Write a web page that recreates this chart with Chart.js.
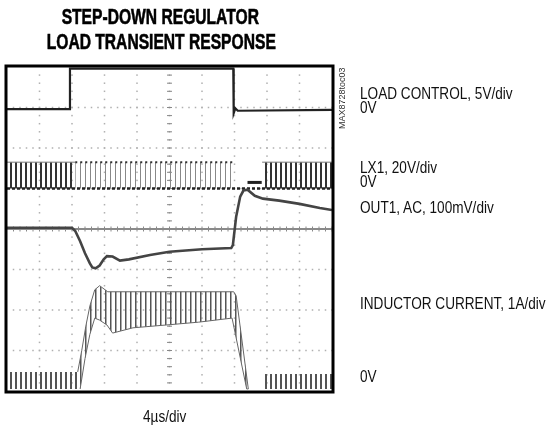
<!DOCTYPE html>
<html>
<head>
<meta charset="utf-8">
<script src="https://cdn.jsdelivr.net/npm/chart.js@4.4.0/dist/chart.umd.min.js"></script>
<style>
body { margin: 0; background: #fff; }
#wrap { position: relative; width: 549px; height: 430px; font-family: "Liberation Sans", Arial, sans-serif; color: #111; }
#wrap canvas { position: absolute; left: 0; top: 0; }
.title { position: absolute; left: 0; top: 4px; width: 320px; text-align: center; font-weight: bold; font-size: 22px; line-height: 25px; white-space: nowrap; color: #000; -webkit-text-stroke: 0.6px #000; transform: scaleX(0.71); transform-origin: 161px 0; }
.lbl { position: absolute; left: 360px; font-size: 17px; line-height: 17px; white-space: nowrap; transform: scaleX(0.8); transform-origin: 0 0; }
.code { position: absolute; left: 338px; top: 129px; font-size: 9px; line-height: 9px; white-space: nowrap; color: #333; transform: rotate(-90deg); transform-origin: 0 0; }
</style>
</head>
<body>
<div id="wrap">
	<canvas id="scope" width="549" height="430"></canvas>
	<div class="title">STEP-DOWN REGULATOR<br>LOAD TRANSIENT RESPONSE</div>
	<div class="code">MAX8728toc03</div>
	<div class="lbl" style="top:85px">LOAD CONTROL, 5V/div</div>
	<div class="lbl" style="top:99px">0V</div>
	<div class="lbl" style="top:159px">LX1, 20V/div</div>
	<div class="lbl" style="top:173px">0V</div>
	<div class="lbl" style="top:199px">OUT1, AC, 100mV/div</div>
	<div class="lbl" style="top:295px">INDUCTOR CURRENT, 1A/div</div>
	<div class="lbl" style="top:368px">0V</div>
	<div class="lbl" style="top:408px; left:143px">4µs/div</div>
</div>
<script>
// x = time in µs (4µs/div, 10 div), y = screen divisions (0 bottom .. 8 top)
const xTicks = [0, 4, 8, 12, 16, 20, 24, 28, 32, 36, 40];
const yTicks = [0, 1, 2, 3, 4, 5, 6, 7, 8];

// LOAD CONTROL
const loadT = [0, 7.7, 7.75, 27.85, 27.9, 28.1, 28.4, 40];
const loadV = [6.96, 6.96, 7.96, 7.96, 6.86, 6.98, 6.92, 6.94];

// OUT1, AC coupled
const out1T = [0, 8.0, 8.4, 9.0, 9.6, 10.2, 10.5, 10.9, 11.4, 11.9, 12.3, 13.0, 13.9, 15.0, 17.6, 20.0, 24.0, 27.6, 27.8, 28.2, 28.7, 29.1, 29.6, 30.5, 31.5, 33.5, 36.0, 38.5, 40];
const out1V = [4.03, 4.03, 3.95, 3.7, 3.4, 3.15, 3.05, 3.03, 3.1, 3.25, 3.33, 3.32, 3.22, 3.25, 3.36, 3.44, 3.5, 3.53, 3.6, 4.3, 4.8, 4.95, 4.97, 4.82, 4.75, 4.7, 4.62, 4.52, 4.47];

// LX1 switching node: top of the pulse bursts, ground at 5 div
const lxGround = 5.0;
const lxLeftT = [0, 8.4];
const lxLeftV = [5.65, 5.65];
const lxHeavyT = [8.4, 27.8];
const lxHeavyV = [5.65, 5.65];
const lxIdleT = [29.6, 31.35];
const lxIdleV = [5.15, 5.15];
const lxRightT = [31.4, 40];
const lxRightV = [5.65, 5.65];

// INDUCTOR CURRENT: outline of the ripple band (top edge, then bottom edge back)
const ilLeftT = [0, 8.9, 8.9, 0];
const ilLeftV = [0.47, 0.47, 0.05, 0.05];
const ilHeavyT = [8.7, 9.2, 9.7, 10.2, 10.8, 11.4, 12.4, 20, 27.9, 28.2, 29.7, 29.5, 27.7, 23.6, 19.6, 15.5, 13.0, 12.3, 11.4, 10.8, 10.2, 9.6, 9.0];
const ilHeavyV = [0.47, 1.0, 1.6, 2.1, 2.5, 2.6, 2.45, 2.45, 2.45, 2.35, 0.05, 0.05, 1.8, 1.7, 1.63, 1.56, 1.43, 1.63, 1.75, 1.8, 1.4, 0.8, 0.05];
const ilRightT = [31.4, 40, 40, 31.4];
const ilRightV = [0.42, 0.42, 0.05, 0.05];

function pts(t, v) {
	return t.map((x, i) => ({ x: x, y: v[i] }));
}

const canvas = document.getElementById('scope');
const ctx = canvas.getContext('2d');

// striped fills to mimic the switching ripple
function stripes(color, period, width) {
	const c = document.createElement('canvas');
	c.width = period; c.height = 2;
	const g = c.getContext('2d');
	g.fillStyle = color;
	g.fillRect(0, 0, width, 2);
	return ctx.createPattern(c, 'repeat');
}

const darkStripes = stripes('#333', 5, 2);
const lightStripes = stripes('#888', 5, 1);
const currentStripes = stripes('#555', 5, 1.5);
const lowCurrentStripes = stripes('#555', 5, 2);

const scopeFrame = {
	id: 'scopeFrame',
	beforeDatasetsDraw(chart) {
		const { ctx, chartArea: a, scales: { x, y } } = chart;
		ctx.save();
		ctx.fillStyle = '#b0b0b0';
		// dotted graticule
		xTicks.slice(1, -1).forEach(t => {
			const px = x.getPixelForValue(t);
			for (let v = 0.2; v < 8; v += 0.2)
				ctx.fillRect(px - 0.75, y.getPixelForValue(v) - 0.75, 1.5, 1.5);
		});
		yTicks.slice(1, -1).forEach(v => {
			const py = y.getPixelForValue(v);
			for (let t = 0.8; t < 40; t += 0.8)
				ctx.fillRect(x.getPixelForValue(t) - 0.75, py - 0.75, 1.5, 1.5);
		});
		// center axes with tick marks
		ctx.strokeStyle = '#888';
		ctx.lineWidth = 1;
		const cx = x.getPixelForValue(20), cy = y.getPixelForValue(4);
		ctx.beginPath();
		for (let v = 0.2; v < 8; v += 0.2) {
			const py = y.getPixelForValue(v);
			ctx.moveTo(cx - 2.5, py); ctx.lineTo(cx + 2.5, py);
		}
		for (let t = 0.8; t < 40; t += 0.8) {
			const px = x.getPixelForValue(t);
			ctx.moveTo(px, cy - 2.5); ctx.lineTo(px, cy + 2.5);
		}
		ctx.stroke();
		ctx.lineWidth = 2;
		ctx.strokeStyle = '#8a8a8a';
		ctx.beginPath();
		ctx.moveTo(a.left, cy); ctx.lineTo(a.right, cy);
		ctx.stroke();
		ctx.restore();
	},
	afterDatasetsDraw(chart) {
		const { ctx, chartArea: a } = chart;
		ctx.save();
		ctx.strokeStyle = '#000';
		ctx.lineWidth = 3;
		ctx.strokeRect(a.left - 1, a.top - 1, a.width + 2, a.height + 2);
		ctx.restore();
	}
};

new Chart(ctx, {
	type: 'line',
	data: {
		datasets: [
			{ data: pts(loadT, loadV), borderColor: '#222', borderWidth: 2.2 },
			{ data: pts(out1T, out1V), borderColor: '#444', borderWidth: 2.6 },
			{ data: pts([0, 40], [lxGround, lxGround]), borderColor: '#222', borderWidth: 2.5, borderDash: [3, 2] },
			{ data: pts(lxIdleT, lxIdleV), borderColor: '#222', borderWidth: 3 },
			{ data: pts(lxLeftT, lxLeftV), borderColor: '#777', borderWidth: 1, fill: { value: lxGround }, backgroundColor: darkStripes },
			{ data: pts(lxHeavyT, lxHeavyV), borderColor: '#333', borderWidth: 2, borderDash: [2, 3], fill: { value: lxGround }, backgroundColor: lightStripes },
			{ data: pts(lxRightT, lxRightV), borderColor: '#777', borderWidth: 1, fill: { value: lxGround }, backgroundColor: darkStripes },
			{ data: pts(ilLeftT, ilLeftV), borderWidth: 0, fill: 'shape', backgroundColor: lowCurrentStripes },
			{ data: pts(ilHeavyT, ilHeavyV), borderColor: '#666', borderWidth: 1, fill: 'shape', backgroundColor: currentStripes },
			{ data: pts(ilRightT, ilRightV), borderWidth: 0, fill: 'shape', backgroundColor: lowCurrentStripes }
		]
	},
	options: {
		responsive: false,
		animation: false,
		layout: { padding: { left: 7, right: 217, top: 67, bottom: 39 } },
		plugins: { legend: { display: false }, tooltip: { enabled: false } },
		elements: { point: { radius: 0 }, line: { tension: 0 } },
		scales: {
			x: { type: 'linear', min: 0, max: 40, display: false },
			y: { type: 'linear', min: 0, max: 8, display: false }
		}
	},
	plugins: [scopeFrame]
});
</script>
</body>
</html>
